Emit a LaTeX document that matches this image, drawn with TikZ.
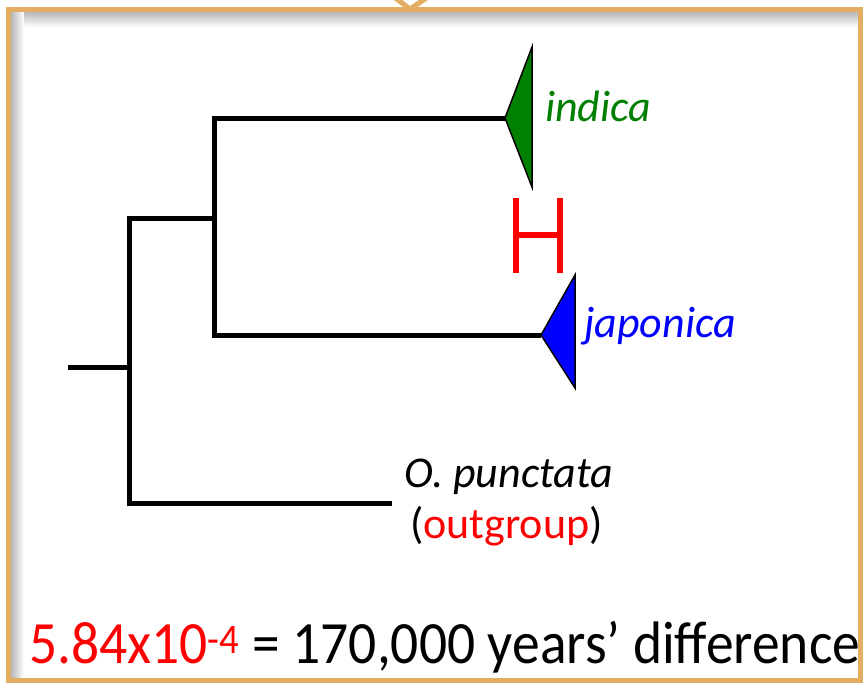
\documentclass[tikz,border=0pt]{standalone}
\usepackage{fontspec}
\setmainfont{Carlito}
\usepackage{xcolor}

\definecolor{framecol}{HTML}{E3AE62}
\definecolor{indgreen}{HTML}{008000}
\definecolor{japblue}{HTML}{0000FF}

\begin{document}
\begin{tikzpicture}[x=1pt, y=-1pt,
    branch/.style={line width=5pt, line join=miter},
    clade/.style={draw=black, line width=1.5pt, line join=miter},
    taxon/.style={anchor=base west, inner sep=0pt, font=\fontsize{44}{52}\selectfont\itshape}]
    % Page size and clipping
    \useasboundingbox (0,0) rectangle (863,683);
    \clip (0,0) rectangle (863,683);

    % Soft shadow inside the frame, then the frame itself
    \shade[top color=black!28, bottom color=white] (11,12) rectangle (858,27);
    \shade[left color=black!28, right color=white] (11,12) rectangle (24,678);
    \draw[framecol, line width=5pt] (8.5,9.5) rectangle (860.5,680.5);
    \draw[framecol, line width=5pt] (394,-3) -- (410,9) -- (428,-3);

    % Tree points
    \coordinate (root) at (68,367);
    \coordinate (base) at (127,367);
    \coordinate (outer) at (129,218);
    \coordinate (inner) at (214,218);
    \coordinate (ind) at (505,118);
    \coordinate (jap) at (541,335);
    \coordinate (outg) at (392,503);

    % Branches
    \draw[branch] (root) -- (base);
    \draw[branch] (inner) -- (outer) |- (outg);
    \draw[branch] (ind) -| (inner) |- (jap);

    % Collapsed clades
    \draw[clade, fill=indgreen] (ind) -- (532,47) -- (532,187) -- cycle;
    \draw[clade, fill=japblue] (jap) -- (575,275) -- (575,388) -- cycle;

    % Red bar between the clades
    \draw[red, line width=5.5pt] (516,198) -- (516,273)
        (560,198) -- (560,273)
        (513,235) -- (563,235);

    % Taxon names
    \node[taxon, text=indgreen] (indlab) at (545,121) {indica};
    \node[taxon, text=japblue] (japlab) at (584,337) {japonica};
    \node[taxon] (outlab) at (404,487) {O. punctata};
    \node[anchor=base west, inner sep=0pt, font=\fontsize{44}{52}\selectfont]
        (outnote) at (410,538) {(\textcolor{red}{outgroup})};

    % Rate conversion
    \node[anchor=base west, inner sep=0pt, font=\fontsize{60}{70}\selectfont]
        (rate) at (29,663) {\scalebox{0.925}[1]{\textcolor{red}{5.84x10\textsuperscript{-4}} = 170,000 years’ difference}};
\end{tikzpicture}
\end{document}
